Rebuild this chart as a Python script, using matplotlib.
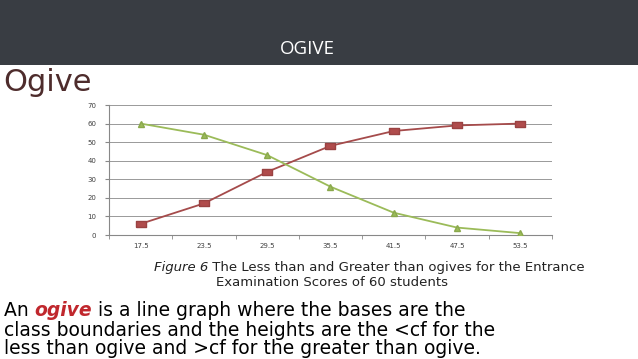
import matplotlib.pyplot as plt
import numpy as np
from matplotlib.patches import Rectangle

boundaries = ["17.5", "23.5", "29.5", "35.5", "41.5", "47.5", "53.5"]
less_than_cf = [6, 17, 34, 48, 56, 59, 60]
greater_than_cf = [60, 54, 43, 26, 12, 4, 1]
y_ticks = [0, 10, 20, 30, 40, 50, 60, 70]

W, H = 638, 359
fig = plt.figure(figsize=(W / 100, H / 100), dpi=100)
fig.patch.set_facecolor("white")


def fx(px):
    return px / W


def fy(py):
    return 1 - py / H


# dark header band
fig.patches.append(Rectangle((0, fy(65)), 1, 65 / H, transform=fig.transFigure,
                             facecolor="#393d43", edgecolor="none", zorder=0))
fig.text(fx(307), fy(49), "OGIVE", color="white", fontsize=13.5, family="Open Sans",
         ha="center", va="center")

# slide heading
fig.text(fx(3), fy(91), "Ogive", color="#4e2c2c", fontsize=22, family="DejaVu Sans",
         ha="left", va="baseline")

# chart
ax = fig.add_axes([fx(109), fy(235), fx(552) - fx(109), (235 - 105) / H])
x = np.arange(len(boundaries))
wide_square = [(-1.5, -1), (1.5, -1), (1.5, 1), (-1.5, 1), (-1.5, -1)]
ax.plot(x, less_than_cf, color="#a54b4b", lw=1.3, marker=wide_square, markersize=7.5,
        markerfacecolor="#b04c4c", markeredgecolor="#9a4242", zorder=3)
ax.plot(x, greater_than_cf, color="#9bbb59", lw=1.3, marker="^", markersize=5,
        markerfacecolor="#9bbb59", markeredgecolor="#8aa84c", zorder=3)

ax.set_xlim(-0.5, len(boundaries) - 0.5)
ax.set_ylim(0, 70)
ax.set_yticks(y_ticks)
ax.set_yticklabels([str(v) for v in y_ticks])
ax.set_xticks(x)
ax.set_xticklabels(boundaries)
ax.set_xticks(np.arange(-0.5, len(boundaries)), minor=True)
ax.tick_params(axis="x", which="major", length=0, labelsize=5, labelcolor="#404040", pad=6)
ax.tick_params(axis="x", which="minor", length=3, color="#888888", direction="out")
ax.tick_params(axis="y", length=3, color="#888888", labelsize=5, labelcolor="#404040", pad=6)
ax.grid(axis="y", color="#999999", lw=0.7)
ax.set_axisbelow(True)
for s in ["top", "right"]:
    ax.spines[s].set_visible(False)
for s in ["left", "bottom"]:
    ax.spines[s].set_color("#888888")
    ax.spines[s].set_linewidth(0.8)

# caption
cap_fs = 9.5
cap1 = fig.text(fx(154), fy(271), "Figure 6", fontsize=cap_fs, family="DejaVu Sans",
                style="italic", color="#222222", ha="left", va="baseline")
ax.annotate(" The Less than and Greater than ogives for the Entrance", xy=(1, 0),
            xycoords=cap1, fontsize=cap_fs, family="DejaVu Sans", color="#222222",
            ha="left", va="bottom", annotation_clip=False)
fig.text(fx(332), fy(286), "Examination Scores of 60 students", fontsize=cap_fs,
         family="DejaVu Sans", color="#222222", ha="center", va="baseline")

# body text
body_fs = 13.5
t1 = fig.text(fx(4), fy(316.5), "An ", fontsize=body_fs, family="DejaVu Sans",
              color="black", ha="left", va="baseline")
t2 = ax.annotate("ogive", xy=(1, 0), xycoords=t1, fontsize=body_fs, family="DejaVu Sans",
                 color="#c0272d", weight="bold", style="italic", ha="left", va="bottom",
                 annotation_clip=False)
ax.annotate(" is a line graph where the bases are the", xy=(1, 0), xycoords=t2,
            fontsize=body_fs, family="DejaVu Sans", color="black", ha="left",
            va="bottom", annotation_clip=False)
fig.text(fx(4), fy(335.5), "class boundaries and the heights are the <cf for the",
         fontsize=body_fs, family="DejaVu Sans", color="black", ha="left", va="baseline")
fig.text(fx(4), fy(354.5), "less than ogive and >cf for the greater than ogive.",
         fontsize=body_fs, family="DejaVu Sans", color="black", ha="left", va="baseline")

fig.savefig("out.png", dpi=100)
